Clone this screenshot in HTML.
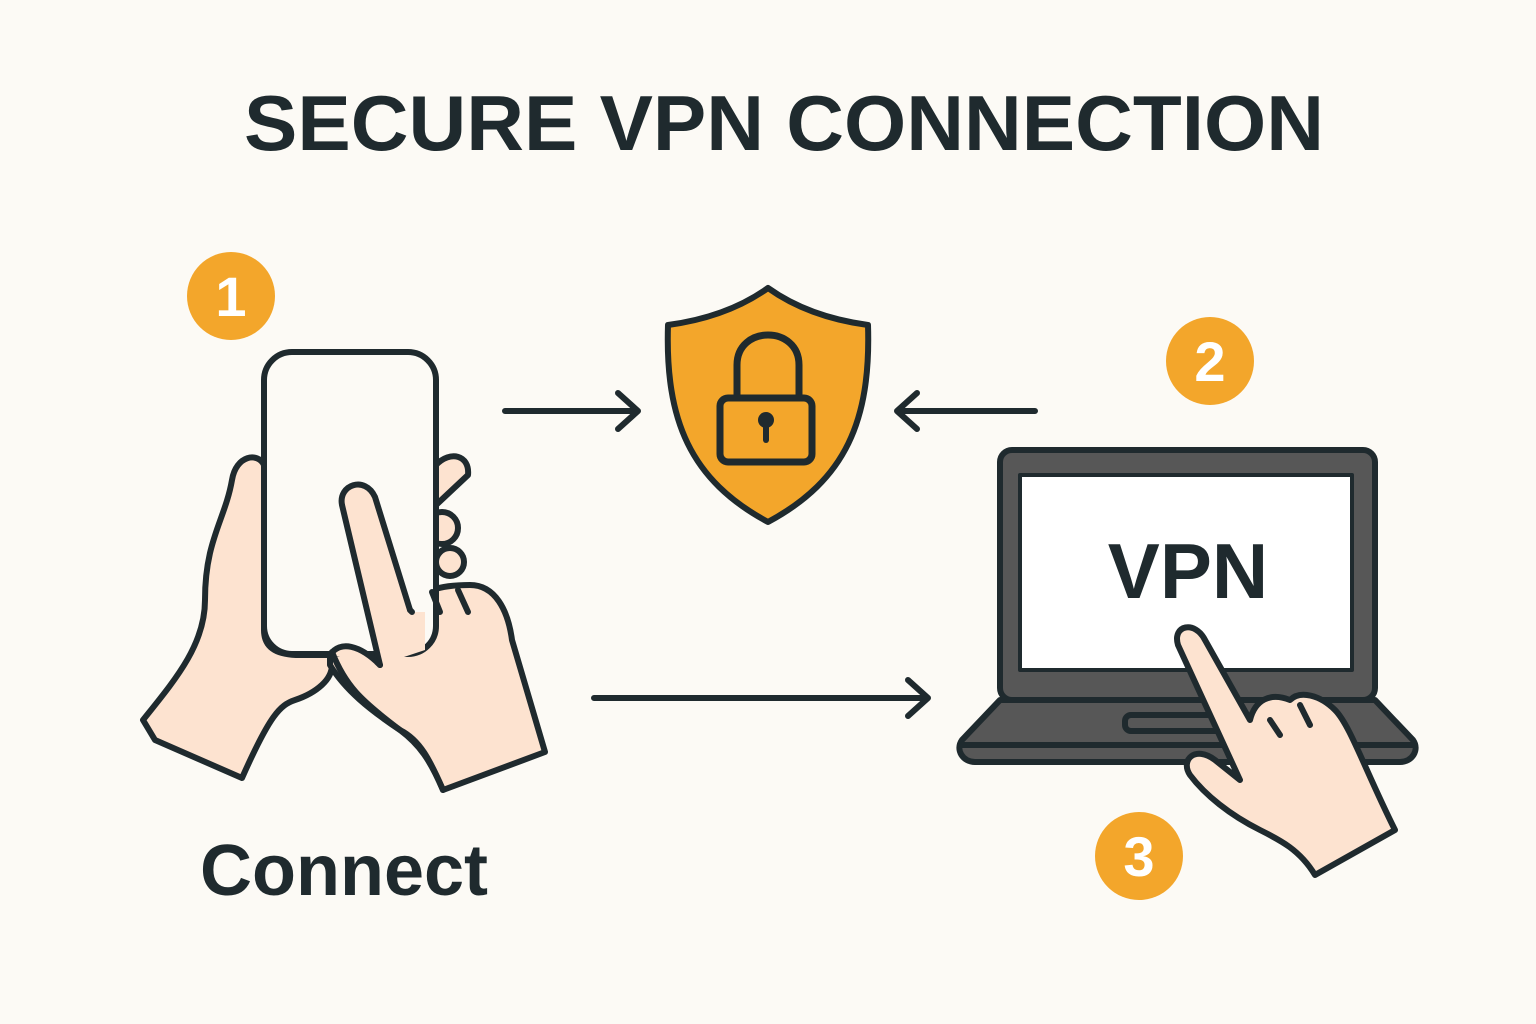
<!DOCTYPE html>
<html><head><meta charset="utf-8"><style>
html,body{margin:0;padding:0;background:#fcfaf5}
svg{display:block}
</style></head><body>
<svg width="1536" height="1024" viewBox="0 0 1536 1024" xmlns="http://www.w3.org/2000/svg">
<rect width="1536" height="1024" fill="#fcfaf5"/>
<text x="784" y="150" text-anchor="middle" font-family="Liberation Sans, sans-serif" font-weight="bold" font-size="78" fill="#1f2a2e" textLength="1080" lengthAdjust="spacingAndGlyphs">SECURE VPN CONNECTION</text>

<g fill="#f3a62b">
<circle cx="231" cy="296" r="44"/><circle cx="1210" cy="361" r="44"/><circle cx="1139" cy="856" r="44"/>
</g>
<g font-family="Liberation Sans, sans-serif" font-weight="bold" font-size="56" fill="#fff" text-anchor="middle">
<text x="231" y="316">1</text><text x="1210" y="381">2</text><text x="1139" y="876">3</text>
</g>

<g stroke="#1f2a2e" stroke-width="6" stroke-linecap="round" stroke-linejoin="round">
<path d="M143,720 C175,680 205,645 205,600 C205,540 225,520 232,480 C236,455 258,452 264,465 L264,630 C264,650 280,655 300,655 L330,655 C340,680 310,695 295,700 C280,705 270,715 242,778 L155,740 Z" fill="#fde3d0"/>
<path d="M330,655 C340,640 360,645 380,665 L342,505 C338,485 365,475 375,497 L410,610 C420,590 440,585 470,585 C495,585 508,610 512,640 L545,752 L443,790 C430,760 420,740 400,730 C370,710 345,690 330,665 Z" fill="#fde3d0"/>
<path d="M436,465 C450,450 470,455 468,475 L436,505" fill="#fde3d0"/>
<circle cx="442" cy="528" r="16" fill="#fde3d0"/>
<circle cx="450" cy="562" r="14" fill="#fde3d0"/>
<rect x="264" y="352" width="172" height="302" rx="28" fill="#fcfaf5"/>
<path d="M380,665 L342,505 C338,485 365,475 375,497 L412,612 L425,612 L425,650 L380,665 Z" fill="#fde3d0" stroke="none"/>
<path d="M380,665 L342,505 C338,485 365,475 375,497 L410,610" fill="none"/>
<path d="M330,655 C340,640 360,645 380,665" fill="#fde3d0"/>
<path d="M410,610 L412,612 M440,612 L432,592 M468,612 L458,590" fill="none"/>
<path d="M332,652 C345,685 360,700 400,730 C420,745 430,760 443,790" fill="none"/>

<path d="M505,411 H638 M618,393 L638,411 L618,429" fill="none"/>
<path d="M1035,411 H897 M917,393 L897,411 L917,429" fill="none"/>
<path d="M594,698 H928 M908,680 L928,698 L908,716" fill="none"/>

<path d="M768,288 C740,308 705,320 668,325 C665,420 690,480 768,522 C846,480 871,420 868,325 C831,320 796,308 768,288 Z" fill="#f3a62b"/>
<path d="M737,398 V365 C737,325 799,325 799,365 V398" fill="none" stroke-width="7"/>
<rect x="720" y="398" width="92" height="64" rx="8" fill="#f3a62b" stroke-width="7"/>
<circle cx="766" cy="420" r="8" fill="#1f2a2e" stroke="none"/>
<path d="M766,425 V440" stroke-width="6"/>

<rect x="1000" y="450" width="375" height="250" rx="12" fill="#575757"/>
<rect x="1020" y="475" width="332" height="195" fill="#fff" stroke-width="4"/>
<path d="M1000,700 H1375 L1413,740 C1420,750 1412,762 1400,762 H975 C963,762 955,750 962,740 Z" fill="#575757"/>
<path d="M962,745 H1413" fill="none"/>
<rect x="1125" y="715" width="125" height="16" rx="6" fill="#575757"/>
</g>
<text x="1188" y="598" text-anchor="middle" font-family="Liberation Sans, sans-serif" font-weight="bold" font-size="78" fill="#1f2a2e">VPN</text>
<g stroke="#1f2a2e" stroke-width="6" stroke-linecap="round" stroke-linejoin="round">
<path d="M1240,780 L1178,645 C1172,625 1195,620 1205,640 L1250,720 C1255,700 1270,692 1290,700 C1300,690 1320,695 1335,710 C1350,725 1365,770 1395,830 L1315,875 C1300,850 1280,840 1260,830 C1230,815 1205,795 1190,775 C1180,760 1195,745 1215,760 Z" fill="#fde3d0"/>
<path d="M1270,720 L1280,735 M1300,705 L1310,725" fill="none"/>
</g>
<text x="200" y="895" font-family="Liberation Sans, sans-serif" font-weight="bold" font-size="72" fill="#1f2a2e">Connect</text>
</svg>
</body></html>
